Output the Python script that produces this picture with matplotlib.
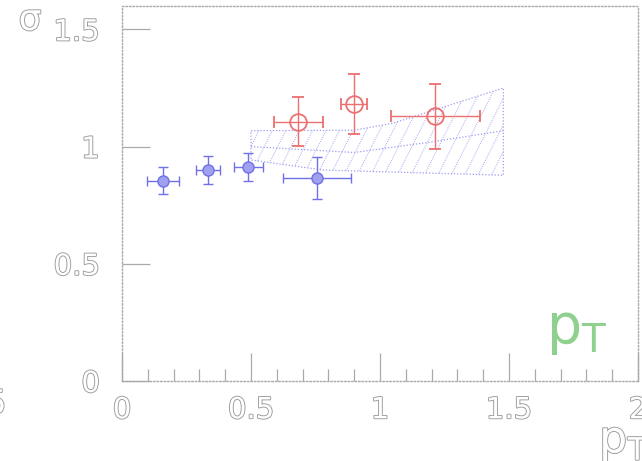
import numpy as np
import matplotlib.pyplot as plt
import matplotlib.patheffects as pe
from matplotlib.patches import Polygon

# blue points
blue_x = [0.16, 0.333, 0.49, 0.757]
blue_y = [0.855, 0.90, 0.912, 0.867]
blue_xerr = [0.062, 0.045, 0.056, 0.132]
blue_yerr = [0.058, 0.06, 0.06, 0.09]

# red points
red_x = [0.684, 0.90, 1.215]
red_y = [1.106, 1.18, 1.129]
red_xerr = [0.095, 0.05, 0.172]
red_yerr = [0.104, 0.128, 0.14]

# shaded band (upper / central / lower curves)
band_up_x = [0.5, 0.9, 1.05, 1.25, 1.478]
band_up_y = [1.068, 1.07, 1.10, 1.17, 1.25]
band_mid_x = [0.5, 0.9, 1.2, 1.478]
band_mid_y = [1.0, 0.975, 1.02, 1.068]
band_lo_x = [0.5, 0.78, 1.478]
band_lo_y = [0.943, 0.90, 0.878]

xticks = [0, 0.5, 1, 1.5, 2]
xticklabels = ['0', '0.5', '1', '1.5', '2']
yticks = [0, 0.5, 1, 1.5]
yticklabels = ['0', '0.5', '1', '1.5']

grey = '#9a9a9a'
outline = [pe.withStroke(linewidth=1.3, foreground=grey)]

fig = plt.figure(figsize=(6.42, 4.61), dpi=100)
ax = fig.add_axes([122/642, 80/461, 516/642, 375/461])
ax.set_xlim(0, 2.0)
ax.set_ylim(0, 1.6)

for s in ax.spines.values():
    s.set_color('#aaaaaa')
    s.set_linestyle((0, (1, 1.5)))
    s.set_linewidth(1.0)

# band
poly_x = band_up_x + band_lo_x[::-1]
poly_y = band_up_y + band_lo_y[::-1]
band = Polygon(np.column_stack([poly_x, poly_y]), closed=True, facecolor='none',
               edgecolor='#9d9df0', linestyle=(0, (1, 1.5)), linewidth=0.9)
ax.add_patch(band)
ax.plot(band_mid_x, band_mid_y, color='#9d9df0', linestyle=(0, (1, 1.5)), linewidth=0.9)

# steep hatching clipped to the band
slope = 2.0 * 257 / 235
for x0 in np.arange(0.2, 1.6, 0.052):
    hx = np.array([x0, x0 + 0.6])
    ln, = ax.plot(hx, 0.8 + slope * (hx - x0), color='#a8a8f2', linewidth=0.7,
                  linestyle=(0, (1, 1.2)))
    ln.set_clip_path(band)

ax.errorbar(blue_x, blue_y, xerr=blue_xerr, yerr=blue_yerr, fmt='o', color='#7070e8',
            ms=8, mfc='#a0a0f0', mec='#7070e8', elinewidth=1.0, capsize=3.5, capthick=1.0)
ax.errorbar(red_x, red_y, xerr=red_xerr, yerr=red_yerr, fmt='o', color='#ec7070',
            ms=12, mfc='none', mec='#ec7070', mew=1.3, elinewidth=1.0, capsize=4.5, capthick=1.0)

ax.set_xticks(xticks)
ax.set_xticks(np.arange(0, 2.01, 0.1), minor=True)
ax.set_yticks(yticks)
ax.tick_params(which='major', direction='in', length=20, width=0.9, color='#aaaaaa')
ax.tick_params(which='minor', direction='in', length=9, width=0.9, color='#aaaaaa')
ax.tick_params(axis='x', pad=11)
ax.tick_params(axis='y', pad=16)
ax.set_xticklabels(xticklabels)
ax.set_yticklabels(yticklabels)
for lab in ax.get_xticklabels() + ax.get_yticklabels():
    lab.set_fontsize(21)
    lab.set_color('white')
    lab.set_path_effects(outline)

ax.text(0.882, 0.136, r'$\mathrm{p}_\mathrm{T}$', transform=ax.transAxes, fontsize=40,
        color='#8fd08f', ha='center', va='center')

fig.text(30/642, 1 - 20/461, 'σ', fontsize=26, color='white', ha='center', va='center',
         path_effects=outline)
fig.text(624/642, 1 - 442/461, r'$\mathrm{p}_\mathrm{T}$', fontsize=32, color='white',
         ha='center', va='center', path_effects=outline)
fig.text(-4/642, 1 - 404/461, '5', fontsize=24, color='white', ha='center', va='center',
         path_effects=outline)

fig.savefig('out.png', dpi=100)
